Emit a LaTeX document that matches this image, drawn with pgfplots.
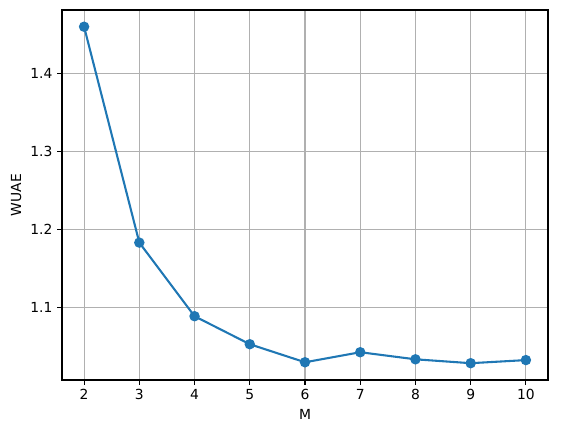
\documentclass[border=0pt]{standalone}
\usepackage{fontspec}
\setmainfont{DejaVu Sans}
\usepackage{pgfplots}
\pgfplotsset{compat=1.18}
\usetikzlibrary{calc}
\definecolor{mplblue}{HTML}{1F77B4}
\definecolor{mplgrid}{HTML}{B0B0B0}
\begin{document}
\begin{tikzpicture}
\begin{axis}[
  scale only axis, width=364.5pt, height=277.5pt,
  xmin=1.6, xmax=10.4, ymin=1.0064, ymax=1.482,
  xtick={2,3,4,5,6,7,8,9,10},
  ytick={1.1,1.2,1.3,1.4},
  yticklabel style={/pgf/number format/.cd, fixed, fixed zerofill, precision=1},
  /pgf/number format/assume math mode=true,
  tick label style={font=\fontsize{10.4}{12}\selectfont},
  label style={font=\fontsize{10.4}{12}\selectfont},
  xlabel={M}, ylabel={WUAE},
  grid=major, grid style={mplgrid, line width=0.83pt},
  axis line style={line width=0.83pt},
  tick style={black, line width=0.83pt},
  tick align=outside, major tick length=3.65pt,
  xtick pos=bottom, ytick pos=left,
]
\addplot[mplblue, line width=1.56pt, mark=*, mark size=3.1pt, mark options={fill=mplblue, draw=mplblue}]
coordinates {
(2,1.4605) (3,1.183) (4,1.0884) (5,1.0524) (6,1.0292)
(7,1.0421) (8,1.033) (9,1.028) (10,1.032)
};
\end{axis}
\pgfresetboundingbox
\path[use as bounding box] ($(current axis.south west)+(-46.5pt,-39pt)$) rectangle ($(current axis.north east)+(14.25pt,7.5pt)$);
\end{tikzpicture}
\end{document}
